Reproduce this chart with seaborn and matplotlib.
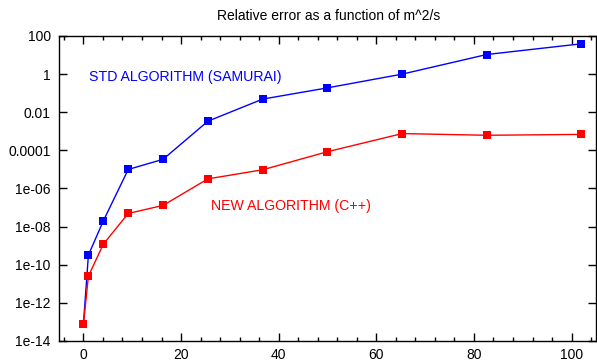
import numpy as np
import pandas as pd
import matplotlib
matplotlib.use("Agg")
import matplotlib.pyplot as plt
import matplotlib.ticker as mticker
import seaborn as sns

# data
x_vals = [0, 1.02, 4.08, 9.18, 16.32, 25.5, 36.72, 49.98, 65.29, 82.63, 102.01]
std_err = [7.4e-14, 3.2e-10, 2.0e-8, 1.0e-5, 3.4e-5, 3.4e-3, 0.049, 0.19, 1.0, 10.7, 39.0]
new_err = [7.4e-14, 2.5e-11, 1.2e-9, 4.9e-8, 1.3e-7, 3.2e-6, 9.6e-6, 8.5e-5, 7.6e-4, 6.2e-4, 6.9e-4]

y_ticks = [1e2, 1, 1e-2, 1e-4, 1e-6, 1e-8, 1e-10, 1e-12, 1e-14]
y_labels = ["100", "1", "0.01", "0.0001", "1e-06", "1e-08", "1e-10", "1e-12", "1e-14"]
x_ticks = [0, 20, 40, 60, 80, 100]

df = pd.DataFrame({
    "x": x_vals * 2,
    "err": std_err + new_err,
    "algo": ["STD"] * len(x_vals) + ["NEW"] * len(x_vals),
})

sns.set_theme(style="ticks")
plt.rcParams["font.family"] = ["Liberation Sans", "DejaVu Sans"]

fig = plt.figure(figsize=(5.97, 3.63), dpi=100)
ax = fig.add_axes([59 / 597, 22 / 363, 537 / 597, 305 / 363])

sns.lineplot(data=df, x="x", y="err", hue="algo", palette={"STD": "#0000ff", "NEW": "#ff0000"},
             hue_order=["STD", "NEW"], marker="s", markersize=6, markeredgewidth=0,
             linewidth=1.0, legend=False, ax=ax)

ax.set_yscale("log")
ax.set_xlim(-5, 105)
ax.set_ylim(1e-14, 100)
ax.set_xticks(x_ticks)
ax.xaxis.set_minor_locator(mticker.MultipleLocator(4))
ax.yaxis.set_major_locator(mticker.FixedLocator(y_ticks))
ax.yaxis.set_major_formatter(mticker.FixedFormatter(y_labels))
ax.yaxis.set_minor_locator(mticker.NullLocator())
ax.set_xlabel("")
ax.set_ylabel("")

ax.tick_params(which="both", direction="in", top=True, right=True, colors="black",
               labelsize=10, width=1)
ax.tick_params(which="major", length=6)
ax.tick_params(which="minor", length=3)
ax.tick_params(axis="x", which="major", pad=5)
ax.tick_params(axis="y", which="major", pad=6)
for s in ax.spines.values():
    s.set_linewidth(1.0)
    s.set_color("black")

ax.text(1.2, 0.72, "STD ALGORITHM (SAMURAI)", color="#0000ff", fontsize=10.2, va="center")
ax.text(26.2, 1.26e-7, "NEW ALGORITHM (C++)", color="#ff0000", fontsize=10.2, va="center")
fig.text(0.551, 1 - 16 / 363, "Relative error as a function of m^2/s", ha="center", va="center",
         fontsize=10, color="black")

fig.savefig("out.png", dpi=100)
